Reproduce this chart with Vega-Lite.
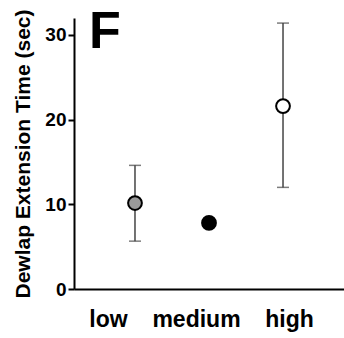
{
  "$schema": "https://vega.github.io/schema/vega-lite/v6.json",
  "autosize": "none",
  "width": 270,
  "height": 271,
  "padding": {"left": 74, "top": 18, "right": 0, "bottom": 49},
  "background": "white",
  "config": {
    "view": {"stroke": null},
    "font": "Liberation Sans",
    "axis": {
      "domainColor": "black",
      "domainWidth": 2,
      "tickColor": "black",
      "tickWidth": 2,
      "tickSize": 6,
      "grid": false,
      "labelColor": "black",
      "labelFont": "Liberation Sans",
      "labelFontWeight": "bold",
      "titleFont": "Liberation Sans",
      "titleFontWeight": "bold",
      "titleColor": "black"
    }
  },
  "data": {
    "values": [
      {"group": "low", "mean": 10.15, "lo": 5.65, "hi": 14.6, "fill": "#9a9a9a"},
      {"group": "medium", "mean": 7.8, "lo": null, "hi": null, "fill": "#000000"},
      {"group": "high", "mean": 21.6, "lo": 12.0, "hi": 31.4, "fill": "#ffffff"}
    ]
  },
  "encoding": {
    "x": {
      "field": "group",
      "type": "ordinal",
      "sort": ["low", "medium", "high"],
      "scale": {"type": "point", "padding": 0.824},
      "axis": {
        "title": null,
        "ticks": false,
        "labelAngle": 0,
        "labelFontSize": 23,
        "labelPadding": 19,
        "labelOffset": {"condition": [{"test": "datum.value === 'low'", "value": -27}, {"test": "datum.value === 'medium'", "value": -13}], "value": 6}
      }
    }
  },
  "layer": [
    {
      "mark": {"type": "rule", "color": "#444444", "strokeWidth": 1.5},
      "encoding": {
        "y": {
          "field": "lo",
          "type": "quantitative",
          "scale": {"domain": [0, 32], "nice": false, "zero": true},
          "axis": {
            "title": "Dewlap Extension Time (sec)",
            "titleFontSize": 21,
            "titlePadding": 11,
            "values": [0, 10, 20, 30],
            "labelFontSize": 19,
            "labelPadding": 2
          }
        },
        "y2": {"field": "hi"}
      }
    },
    {
      "mark": {"type": "tick", "color": "#444444", "thickness": 1.5, "size": 12},
      "encoding": {"y": {"field": "lo", "type": "quantitative"}}
    },
    {
      "mark": {"type": "tick", "color": "#444444", "thickness": 1.5, "size": 12},
      "encoding": {"y": {"field": "hi", "type": "quantitative"}}
    },
    {
      "mark": {"type": "point", "filled": false, "shape": "circle", "size": 190, "stroke": "black", "strokeWidth": 2, "opacity": 1},
      "encoding": {
        "y": {"field": "mean", "type": "quantitative"},
        "fill": {"field": "fill", "type": "nominal", "scale": null},
        "fillOpacity": {"value": 1}
      }
    },
    {
      "data": {"values": [{"label": "F", "group": "low", "gy": 30}]},
      "mark": {"type": "text", "fontSize": 52, "fontWeight": "bold", "font": "Liberation Sans", "align": "center", "baseline": "alphabetic", "dx": -30, "dy": 13, "color": "black"},
      "encoding": {
        "x": {"field": "group", "type": "ordinal", "sort": ["low", "medium", "high"]},
        "y": {"field": "gy", "type": "quantitative"},
        "text": {"field": "label"}
      }
    }
  ]
}
